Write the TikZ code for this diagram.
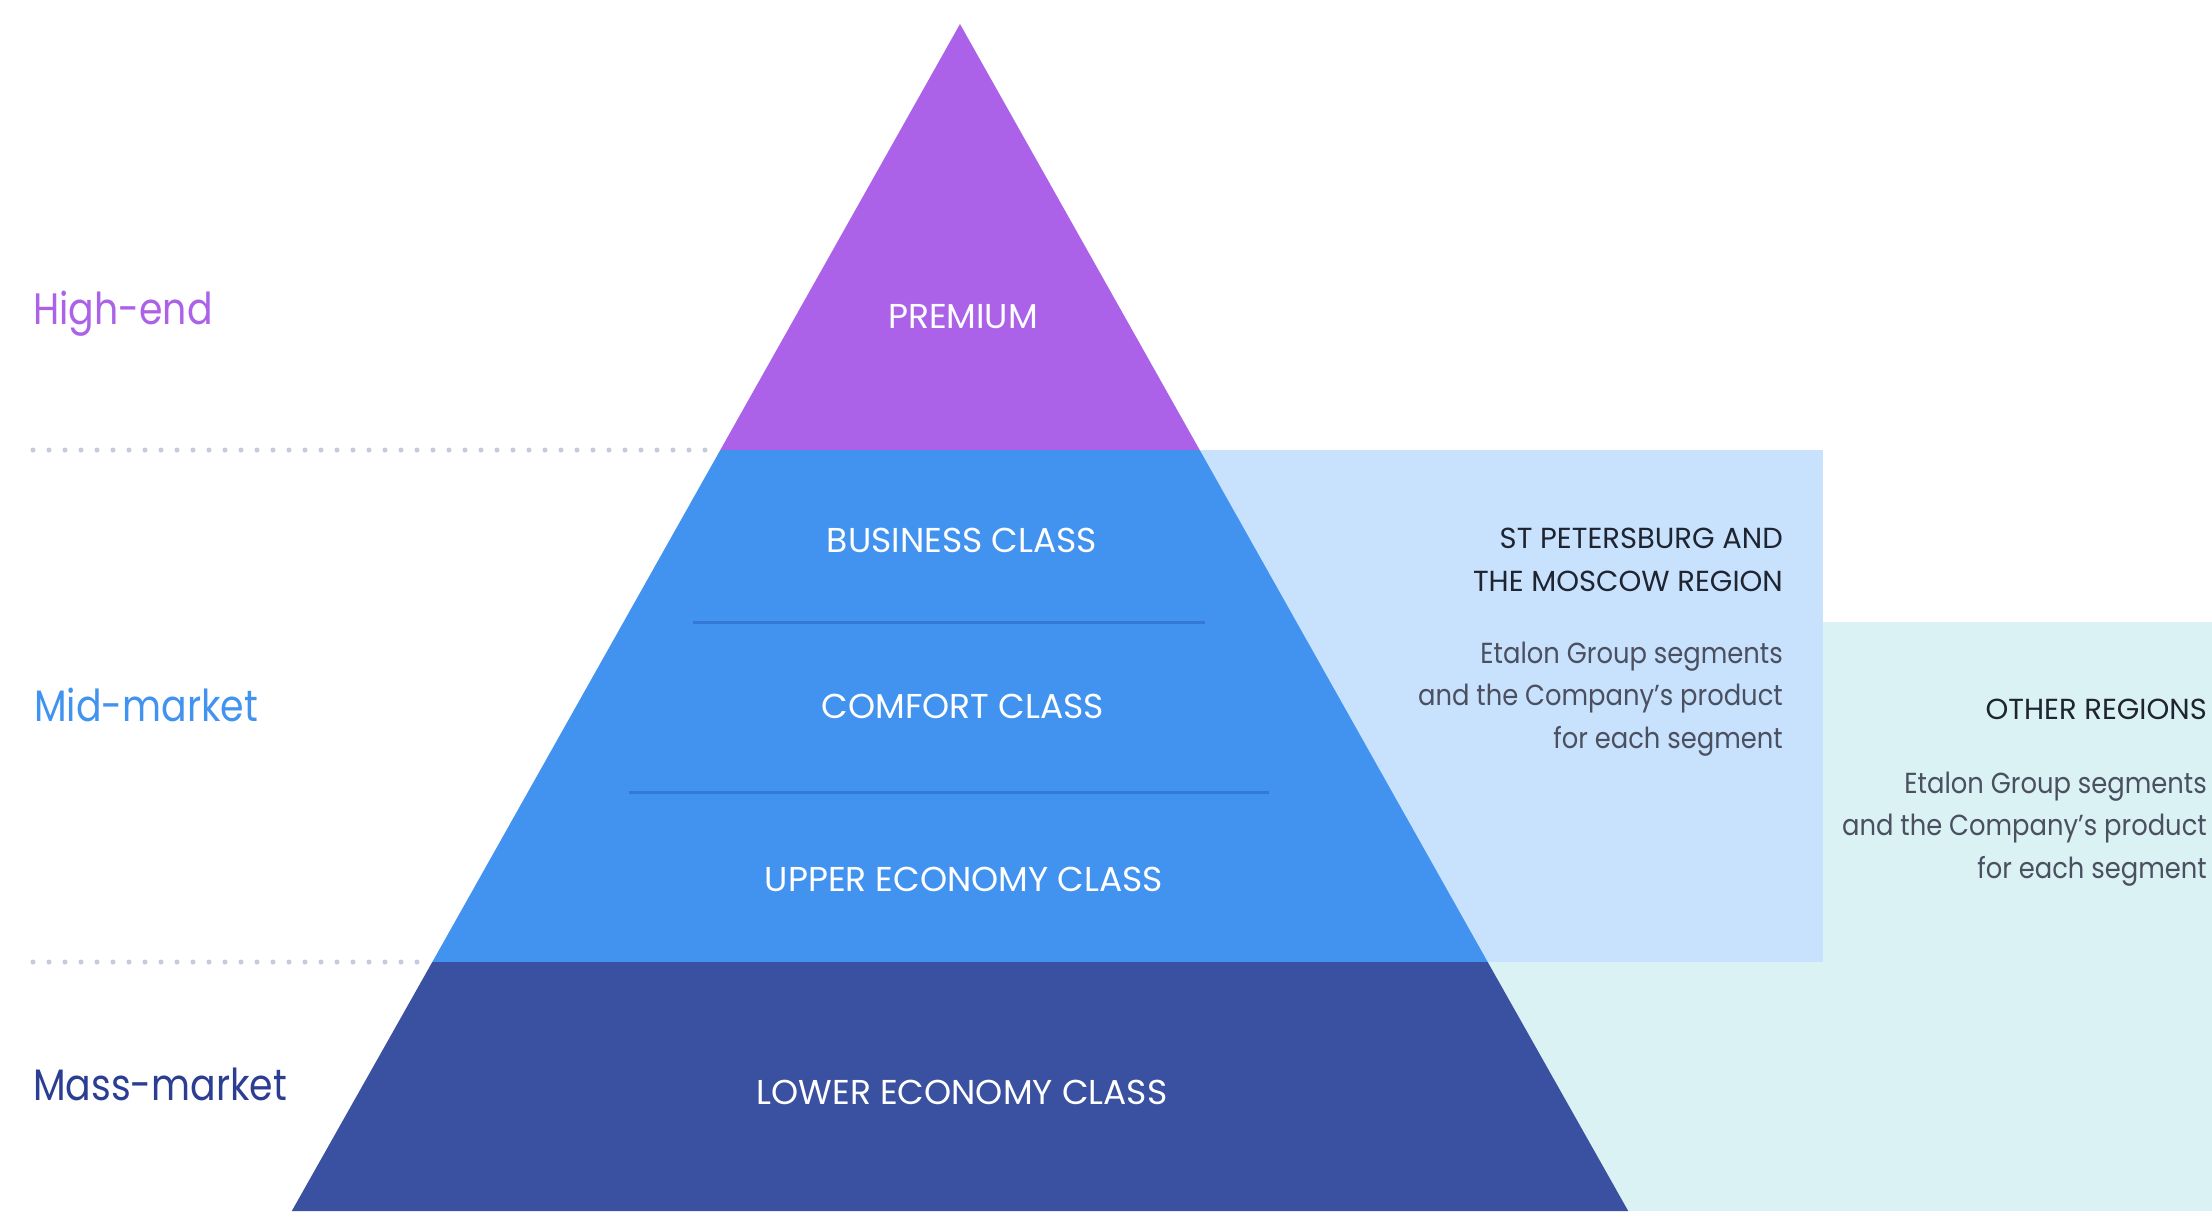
\documentclass[tikz,border=0pt]{standalone}
\usepackage{fontspec}
\setmainfont{Poppins}
\newfontfamily\narrowsans{Poppins}[FakeStretch=0.86]
\newfontfamily\notesans{Poppins}[FakeStretch=0.89]

\definecolor{premium}{HTML}{AC62E8}
\definecolor{midblue}{HTML}{4293EF}
\definecolor{lowblue}{HTML}{3A50A1}
\definecolor{spbfill}{HTML}{C8E1FD}
\definecolor{otherfill}{HTML}{DBF2F4}
\definecolor{divline}{HTML}{3479D6}
\definecolor{dotgray}{HTML}{C3CAD9}
\definecolor{massblue}{HTML}{2C3E92}
\definecolor{headtxt}{HTML}{1E2430}
\definecolor{bodytxt}{HTML}{4A5060}

\begin{document}
\begin{tikzpicture}[
  x=1pt, y=-1pt,
  every node/.style={inner sep=0pt},
  tier/.style={text=white, anchor=base, font=\fontsize{34.5}{40}\selectfont},
  market/.style={anchor=base west, font=\narrowsans\fontsize{44}{52}\selectfont},
  regionhead/.style={text=headtxt, align=right, anchor=base east,
    font=\fontsize{29}{43}\selectfont},
  regionnote/.style={text=bodytxt, align=right, anchor=base east,
    font=\notesans\fontsize{29}{42.5}\selectfont}
]
\useasboundingbox (0,0) rectangle (2212,1211);

%% ── pyramid corners (slope 0.5625 from the apex) ─────────────────────────────
\coordinate (apex) at (960,24);
\coordinate (topL) at (720.3,450);  \coordinate (topR) at (1199.7,450);
\coordinate (midL) at (432.3,962);  \coordinate (midR) at (1487.7,962);
\coordinate (botL) at (291.8,1211); \coordinate (botR) at (1628.2,1211);

%% ── region panels behind the pyramid ─────────────────────────────────────────
\fill[otherfill] (1199,622) rectangle (2212,1211);
\fill[spbfill]   (1199,450) rectangle (1823,962);

%% ── pyramid tiers ────────────────────────────────────────────────────────────
\fill[premium] (apex) -- (topR) -- (topL) -- cycle;
\fill[midblue] (topL) -- (topR) -- (midR) -- (midL) -- cycle;
\fill[lowblue] (midL) -- (midR) -- (botR) -- (botL) -- cycle;

% dividers inside the mid-market tier
\coordinate (d1L) at (693,622);  \coordinate (d1R) at (1205,622);
\coordinate (d2L) at (629,792);  \coordinate (d2R) at (1269,792);
\draw[divline, line width=3pt] (d1L) -- (d1R);
\draw[divline, line width=3pt] (d2L) -- (d2R);

%% ── dotted market borders ────────────────────────────────────────────────────
\coordinate (dot1) at (33,450);
\coordinate (dot2) at (33,962);
\draw[dotgray, line width=5pt, line cap=round, dash pattern=on 0pt off 16pt]
  (dot1) -- (topL);
\draw[dotgray, line width=5pt, line cap=round, dash pattern=on 0pt off 16pt]
  (dot2) -- (midL);

%% ── tier labels ──────────────────────────────────────────────────────────────
\node[tier] (premiumlbl)  at (963,328)  {PREMIUM};
\node[tier] (businesslbl) at (962,552)  {BUSINESS CLASS};
\node[tier] (comfortlbl)  at (963,718)  {COMFORT CLASS};
\node[tier] (upperlbl)    at (964,891)  {UPPER ECONOMY CLASS};
\node[tier] (lowerlbl)    at (962,1104) {LOWER ECONOMY CLASS};

%% ── market labels ────────────────────────────────────────────────────────────
\node[market, text=premium]  (highend) at (33,324)  {High-end};
\node[market, text=midblue]  (midmkt)  at (34,721)  {Mid-market};
\node[market, text=massblue] (massmkt) at (33,1100) {Mass-market};

%% ── region texts (base = last line) ──────────────────────────────────────────
\node[regionhead] (spbhead) at (1783,591)
  {ST PETERSBURG AND\\THE MOSCOW REGION};
\node[regionnote] (spbnote) at (1783,748)
  {Etalon Group segments\\and the Company’s product\\for each segment};

\node[regionhead] (otherhead) at (2207,719) {OTHER REGIONS};
\node[regionnote] (othernote) at (2207,878)
  {Etalon Group segments\\and the Company’s product\\for each segment};

\end{tikzpicture}
\end{document}
